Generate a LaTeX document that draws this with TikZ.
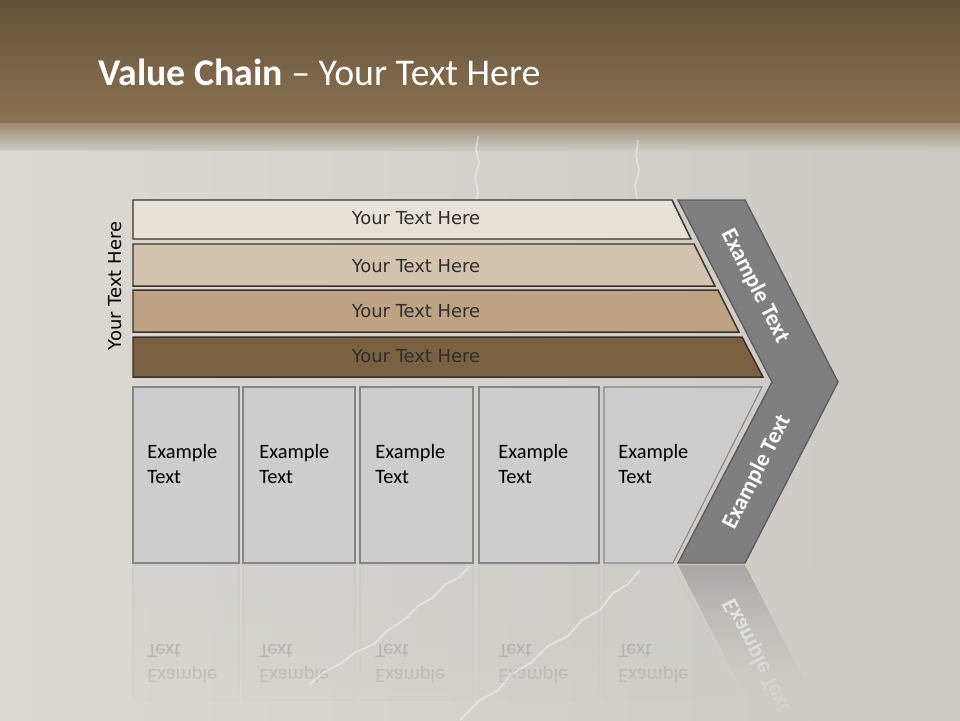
\documentclass[tikz,border=0pt]{standalone}
\usepackage{fontspec}
\setmainfont{Carlito}
\newfontfamily\barfont{DejaVu Sans}
\usetikzlibrary{fadings}

\definecolor{bandtop}{HTML}{65513A}
\definecolor{bandlow}{HTML}{8C7352}
\definecolor{stonelight}{HTML}{DCD8D2}
\definecolor{stonedark}{HTML}{CCC8C3}
\definecolor{barline}{HTML}{3B3129}
\definecolor{barone}{HTML}{E8E1D7}
\definecolor{bartwo}{HTML}{D3C3AE}
\definecolor{barthree}{HTML}{BDA283}
\definecolor{barfour}{HTML}{7A6142}
\definecolor{cellfill}{HTML}{CDCDCD}
\definecolor{cellline}{HTML}{858585}
\definecolor{chevfill}{HTML}{7F7F7F}
\definecolor{chevline}{HTML}{5E5E5E}

\tikzfading[name=fadeout, top color=transparent!100, bottom color=transparent!8]
\tikzfading[name=reflfade, top color=transparent!20, bottom color=transparent!100]

\begin{document}
\begin{tikzpicture}[
  x=0.02cm,
  y=-0.02cm,
  title/.style={font=\fontsize{21.5}{25}\selectfont, text=white, anchor=base west, inner sep=0pt},
  bar/.style={draw=barline, line width=0.85pt},
  bartext/.style={font=\barfont\fontsize{10.2}{12}\selectfont, text=black!82},
  cell/.style={draw=cellline, fill=cellfill, line width=0.6pt},
  celltext/.style={
    font=\fontsize{11.6}{14.2}\selectfont,
    align=left,
    anchor=north west,
    inner sep=0pt
  },
  chevron/.style={draw=chevline, fill=chevfill, line width=0.8pt},
  chevtext/.style={font=\bfseries\fontsize{13}{15}\selectfont, text=white},
  mirror/.style={cell, draw=cellline!50, fill=cellfill, opacity=0.4},
  mirrortext/.style={celltext, text=black!40, yscale=-1},
  crack/.style={draw=white, opacity=0.4, line width=1pt, line join=round}
]

% ---------------------------------------------------------------------------
% Background: stone wall with the brown title band
% ---------------------------------------------------------------------------
\shade[left color=stonelight, right color=stonedark] (0,0) rectangle (960,720);
\shade[top color=bandtop, bottom color=bandlow] (0,0) rectangle (960,123);
\shade[top color=bandlow!75!stonedark, bottom color=stonedark] (0,123) rectangle (960,150);
\useasboundingbox (0,0) rectangle (960,720);

\draw[crack] (478,136) -- (476,150) -- (479,163) -- (475,178) -- (478,192) -- (474,210) -- (477,232);
\draw[crack] (638,140) -- (636,156) -- (639,170) -- (635,186) -- (637,200);

\node[title] (title) at (98,85) {\textbf{Value Chain} -- Your Text Here};

% ---------------------------------------------------------------------------
% Reflection below the cells
% ---------------------------------------------------------------------------
\path[mirror] (133,565) rectangle (239,700);
\path[mirror] (243,565) rectangle (355,700);
\path[mirror] (360,565) rectangle (473,700);
\path[mirror] (479,565) rectangle (599,700);
\path[mirror] (604,565) -- (673,565) -- (742,700) -- (604,700) -- cycle;
\fill[chevfill!75!white, path fading=reflfade] (678,565) -- (745,565) -- (814,700) -- (747,700) -- cycle;

\node[mirrortext] (mirror1) at (147,684) {Example\\Text};
\node[mirrortext] (mirror2) at (259,684) {Example\\Text};
\node[mirrortext] (mirror3) at (375,684) {Example\\Text};
\node[mirrortext] (mirror4) at (498,684) {Example\\Text};
\node[mirrortext] (mirror5) at (618,684) {Example\\Text};
\node[chevtext, text=white!85!gray, rotate=-63, yscale=-1] (mirror6) at (757,656) {Example Text};

% the reflection dies away towards the bottom
\shade[left color=stonelight, right color=stonedark, path fading=fadeout] (0,566) rectangle (960,720);

\draw[crack] (470,566) -- (458,578) -- (446,584) -- (432,598) -- (418,606) -- (404,620)
  -- (388,630) -- (374,644) -- (356,652) -- (340,664) -- (324,672) -- (310,684);
\draw[crack] (640,570) -- (628,584) -- (612,594) -- (600,610) -- (582,620) -- (568,636)
  -- (548,646) -- (532,662) -- (512,674) -- (498,690) -- (480,700) -- (468,712) -- (460,720);

% ---------------------------------------------------------------------------
% Support activities (four bars)
% ---------------------------------------------------------------------------
\path[bar, fill=barone] (133,200) -- (672,200) -- (691,239) -- (133,239) -- cycle;
\path[bar, fill=bartwo] (133,244) -- (694,244) -- (715,286) -- (133,286) -- cycle;
\path[bar, fill=barthree] (133,290) -- (718,290) -- (739,332) -- (133,332) -- cycle;
\path[bar, fill=barfour] (133,337) -- (742,337) -- (763,377) -- (133,377) -- cycle;

\node[bartext] (bar1) at (416,218) {Your Text Here};
\node[bartext] (bar2) at (416,266) {Your Text Here};
\node[bartext] (bar3) at (416,311) {Your Text Here};
\node[bartext] (bar4) at (416,356) {Your Text Here};
\node[bartext, text=black, rotate=90] (side) at (115,286) {Your Text Here};

% ---------------------------------------------------------------------------
% Primary activities (five cells)
% ---------------------------------------------------------------------------
\path[cell] (133,387) rectangle (239,563);
\path[cell] (243,387) rectangle (355,563);
\path[cell] (360,387) rectangle (473,563);
\path[cell] (479,387) rectangle (599,563);
\path[cell] (604,387) -- (762,387) -- (673,563) -- (604,563) -- cycle;

\node[celltext] (cell1) at (147,444) {Example\\Text};
\node[celltext] (cell2) at (259,444) {Example\\Text};
\node[celltext] (cell3) at (375,444) {Example\\Text};
\node[celltext] (cell4) at (498,444) {Example\\Text};
\node[celltext] (cell5) at (618,444) {Example\\Text};

% ---------------------------------------------------------------------------
% Margin chevron
% ---------------------------------------------------------------------------
\path[chevron] (678,200) -- (745,200) -- (838,382) -- (745,563) -- (678,563) -- (772,382) -- cycle;
\node[chevtext, rotate=-63] (margin1) at (755,286) {Example Text};
\node[chevtext, rotate=63] (margin2) at (757,472) {Example Text};

\end{tikzpicture}
\end{document}
